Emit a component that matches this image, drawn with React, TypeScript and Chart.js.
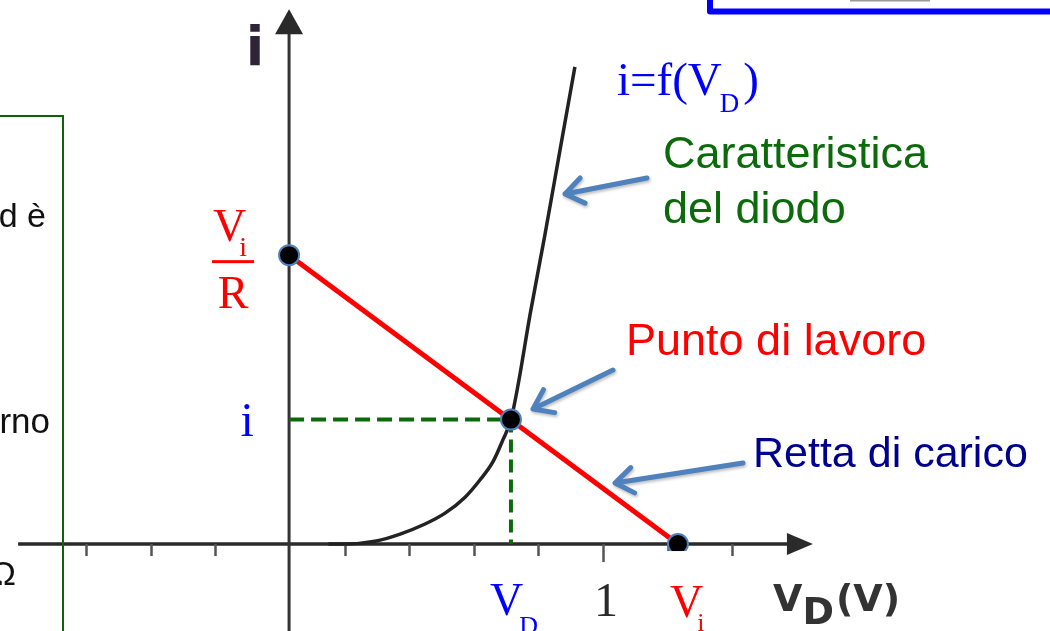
import React, { useEffect, useRef } from "react";
import { Chart, registerables } from "chart.js";

Chart.register(...registerables);

// ---- Scale ranges: x = V_D (volt), y = i (mA, arbitrary) ----
const xRange = [-0.867, 2.384];
const yRange = [-3.04, 19.02];

// Axis extents (data units)
const xAxisFrom = -0.811;
const xAxisTo = 1.65;
const iAxisAt = 0.028; // where the vertical i axis crosses
const iAxisTop = 18.7;

// Tick marks on the V_D axis
const xTickValues = [-0.6, -0.4, -0.2, 0.2, 0.4, 0.6, 0.8, 1.0, 1.2, 1.4];
const xTickLabelValue = 1.0;
const xTickLabel = "1";

// Diode characteristic i = f(V_D)
const diodeV = [0.15, 0.201, 0.294, 0.372, 0.449, 0.511, 0.573, 0.619, 0.659, 0.69, 0.715, 0.737, 0.774, 0.82, 0.867, 0.913];
const diodeI = [0, 0, 0.1, 0.35, 0.7, 1.08, 1.64, 2.24, 2.87, 3.64, 4.35, 5.56, 8.01, 10.8, 13.78, 16.68];

// Load line (retta di carico)
const vi = 1.232;
const viOverR = 10.1;
const loadV = [iAxisAt, vi];
const loadI = [viOverR, 0];

// Operating point (punto di lavoro)
const qV = 0.715;
const qI = 4.35;

const AXIS = "#2a2a2a";
const STEEL = "#4f81bd";
const DGREEN = "#0b6b0b";

function drawArrow(ctx: CanvasRenderingContext2D, x1: number, y1: number, x2: number, y2: number) {
  const ang = Math.atan2(y2 - y1, x2 - x1);
  const hl = 22;
  const ha = 0.62;
  ctx.save();
  ctx.strokeStyle = STEEL;
  ctx.lineWidth = 5;
  ctx.lineCap = "round";
  ctx.lineJoin = "round";
  ctx.shadowColor = "rgba(0,0,0,0.25)";
  ctx.shadowBlur = 3;
  ctx.shadowOffsetX = 1;
  ctx.shadowOffsetY = 2;
  ctx.beginPath();
  ctx.moveTo(x1, y1);
  ctx.lineTo(x2, y2);
  ctx.moveTo(x2 - hl * Math.cos(ang - ha), y2 - hl * Math.sin(ang - ha));
  ctx.lineTo(x2, y2);
  ctx.lineTo(x2 - hl * Math.cos(ang + ha), y2 - hl * Math.sin(ang + ha));
  ctx.stroke();
  ctx.restore();
}

function txt(ctx: CanvasRenderingContext2D, s: string, x: number, y: number, font: string, color: string, align: CanvasTextAlign = "left") {
  ctx.font = font;
  ctx.fillStyle = color;
  ctx.textAlign = align;
  ctx.textBaseline = "alphabetic";
  ctx.fillText(s, x, y);
  return ctx.measureText(s).width;
}

const SERIF = "'Liberation Serif', 'DejaVu Serif', serif";
const SANS = "'Liberation Sans', Arial, sans-serif";
const VERD = "'DejaVu Sans', sans-serif";

const diagramPlugin = {
  id: "diagram",
  beforeDatasetsDraw(chart: any) {
    const { ctx } = chart;
    const xs = chart.scales.x;
    const ys = chart.scales.y;
    const X = (v: number) => xs.getPixelForValue(v);
    const Y = (v: number) => ys.getPixelForValue(v);
    ctx.save();
    // x axis
    const y0 = Y(0);
    const xTip = X(xAxisTo);
    ctx.strokeStyle = AXIS;
    ctx.lineWidth = 3.5;
    ctx.beginPath();
    ctx.moveTo(X(xAxisFrom), y0);
    ctx.lineTo(xTip - 20, y0);
    ctx.stroke();
    ctx.fillStyle = AXIS;
    ctx.beginPath();
    ctx.moveTo(xTip, y0);
    ctx.lineTo(xTip - 26, y0 - 11);
    ctx.lineTo(xTip - 26, y0 + 11);
    ctx.closePath();
    ctx.fill();
    // ticks
    ctx.strokeStyle = "#555";
    ctx.lineWidth = 2.5;
    xTickValues.forEach((t) => {
      const px = Math.round(X(t)) + 0.5;
      ctx.beginPath();
      ctx.moveTo(px, y0);
      ctx.lineTo(px, y0 + (t === xTickLabelValue ? 18 : 12));
      ctx.stroke();
    });
    // y axis
    const xa = X(iAxisAt);
    const yTip = Y(iAxisTop);
    ctx.strokeStyle = "#333";
    ctx.lineWidth = 3;
    ctx.beginPath();
    ctx.moveTo(xa, chart.height);
    ctx.lineTo(xa, yTip + 20);
    ctx.stroke();
    ctx.fillStyle = AXIS;
    ctx.beginPath();
    ctx.moveTo(xa, yTip);
    ctx.lineTo(xa - 14, yTip + 25);
    ctx.lineTo(xa + 14, yTip + 25);
    ctx.closePath();
    ctx.fill();
    ctx.restore();
  },
  afterDatasetsDraw(chart: any) {
    const { ctx } = chart;
    const xs = chart.scales.x;
    const ys = chart.scales.y;
    const X = (v: number) => xs.getPixelForValue(v);
    const Y = (v: number) => ys.getPixelForValue(v);
    ctx.save();
    // white cut below the V_i point
    ctx.fillStyle = "#fff";
    ctx.fillRect(X(vi) - 14, Y(0) + 7, 28, 14);

    // left slide fragments
    ctx.strokeStyle = "#0a640a";
    ctx.lineWidth = 2;
    ctx.beginPath();
    ctx.moveTo(0, 116);
    ctx.lineTo(63, 116);
    ctx.lineTo(63, chart.height);
    ctx.stroke();
    txt(ctx, "d è", 46, 227, `34px ${SANS}`, "#111", "right");
    txt(ctx, "rno", 50, 433, `35px ${SANS}`, "#111", "right");
    txt(ctx, "Ω", 16, 585, `34px ${SANS}`, "#111", "right");

    // top-right blue box
    ctx.strokeStyle = "#0000ff";
    ctx.lineWidth = 6;
    ctx.lineJoin = "round";
    ctx.beginPath();
    ctx.moveTo(710, -5);
    ctx.lineTo(710, 11.5);
    ctx.lineTo(1060, 11.5);
    ctx.stroke();
    ctx.strokeStyle = "#9a9a9a";
    ctx.lineWidth = 2;
    ctx.beginPath();
    ctx.moveTo(850, 0.5);
    ctx.lineTo(930, 0.5);
    ctx.stroke();

    // axis label i
    txt(ctx, "i", 255, 65, `bold 54px ${VERD}`, "#2e2438", "center");

    // Vi / R label
    const pxA = X(iAxisAt);
    const pyR = Y(viOverR);
    let w = txt(ctx, "V", pxA - 76, pyR - 14, `46px ${SERIF}`, "#ff0000");
    txt(ctx, "i", pxA - 76 + w - 7, pyR + 1, `28px ${SERIF}`, "#ff0000");
    ctx.fillStyle = "#ff0000";
    ctx.fillRect(pxA - 77, pyR + 5, 42, 3);
    txt(ctx, "R", pxA - 56, pyR + 53, `46px ${SERIF}`, "#ff0000", "center");

    // i label for operating point
    txt(ctx, "i", pxA - 42, Y(qI) + 16, `48px ${SERIF}`, "#0000ff", "center");

    // bottom labels
    const qx = X(qV);
    w = txt(ctx, "V", qx - 21, 615, `46px ${SERIF}`, "#0000ff");
    txt(ctx, "D", qx - 21 + w - 4, 634, `26px ${SERIF}`, "#0000ff");
    txt(ctx, xTickLabel, X(xTickLabelValue) + 3, 616, `48px ${SERIF}`, "#2a2a2a", "center");
    const vx = X(vi);
    w = txt(ctx, "V", vx - 8, 617, `46px ${SERIF}`, "#ff0000");
    txt(ctx, "i", vx - 8 + w - 6, 631, `26px ${SERIF}`, "#ff0000");

    // axis label VD(V)
    let cx = 773;
    w = txt(ctx, "V", cx, 611, `bold 38px ${VERD}`, "#333");
    cx += w;
    w = txt(ctx, "D", cx, 624, `bold 38px ${VERD}`, "#333");
    cx += w + 2;
    txt(ctx, "(V)", cx, 611, `bold 38px ${VERD}`, "#333");

    // i=f(VD)
    cx = 617;
    w = txt(ctx, "i=f(V", cx, 95, `47px ${SERIF}`, "#0000ff");
    cx += w - 2;
    w = txt(ctx, "D", cx, 112, `27px ${SERIF}`, "#0000ff");
    cx += w + 4;
    txt(ctx, ")", cx, 95, `47px ${SERIF}`, "#0000ff");

    // annotations
    txt(ctx, "Caratteristica", 663, 168, `45px ${SANS}`, DGREEN);
    txt(ctx, "del diodo", 663, 223, `45px ${SANS}`, DGREEN);
    txt(ctx, "Punto di lavoro", 626, 355, `45px ${SANS}`, "#ff0000");
    txt(ctx, "Retta di carico", 753, 467, `43px ${SANS}`, "#00008f");

    drawArrow(ctx, 647, 178, 565, 194);
    drawArrow(ctx, 613, 370, 533, 409);
    drawArrow(ctx, 743, 463, 615, 483);
    ctx.restore();
  },
};

export default function App() {
  const ref = useRef<HTMLCanvasElement>(null);
  useEffect(() => {
    const chart = new Chart(ref.current as HTMLCanvasElement, {
      type: "scatter",
      data: {
        datasets: [
          {
            label: "punti",
            data: [
              { x: iAxisAt, y: viOverR },
              { x: qV, y: qI },
              { x: vi, y: 0 },
            ],
            showLine: false,
            pointRadius: 10,
            pointBackgroundColor: "#000",
            pointBorderColor: STEEL,
            pointBorderWidth: 2,
            order: 0,
          },
          {
            label: "retta di carico",
            data: loadV.map((v, k) => ({ x: v, y: loadI[k] })),
            showLine: true,
            borderColor: "#ff0000",
            borderWidth: 5,
            pointRadius: 0,
            order: 1,
          },
          {
            label: "i",
            data: [
              { x: iAxisAt, y: qI },
              { x: qV, y: qI },
            ],
            showLine: true,
            borderColor: DGREEN,
            borderWidth: 4,
            borderDash: [15, 7],
            pointRadius: 0,
            order: 2,
          },
          {
            label: "VD",
            data: [
              { x: qV, y: qI },
              { x: qV, y: 0 },
            ],
            showLine: true,
            borderColor: DGREEN,
            borderWidth: 4,
            borderDash: [13, 7],
            pointRadius: 0,
            order: 2,
          },
          {
            label: "i=f(VD)",
            data: diodeV.map((v, k) => ({ x: v, y: diodeI[k] })),
            showLine: true,
            borderColor: "#222",
            borderWidth: 3.5,
            cubicInterpolationMode: "monotone",
            pointRadius: 0,
            order: 3,
          },
        ],
      },
      options: {
        responsive: false,
        animation: false,
        devicePixelRatio: 1,
        events: [],
        layout: { padding: 0, autoPadding: false },
        plugins: { legend: { display: false }, tooltip: { enabled: false } },
        scales: {
          x: { type: "linear", min: xRange[0], max: xRange[1], display: false },
          y: { type: "linear", min: yRange[0], max: yRange[1], display: false },
        },
      },
      plugins: [diagramPlugin],
    } as any);
    return () => chart.destroy();
  }, []);
  return (
    <div style={{ position: "fixed", left: 0, top: 0, width: 1050, height: 631, background: "#fff" }}>
      <canvas ref={ref} width={1050} height={631} style={{ display: "block" }} />
    </div>
  );
}
